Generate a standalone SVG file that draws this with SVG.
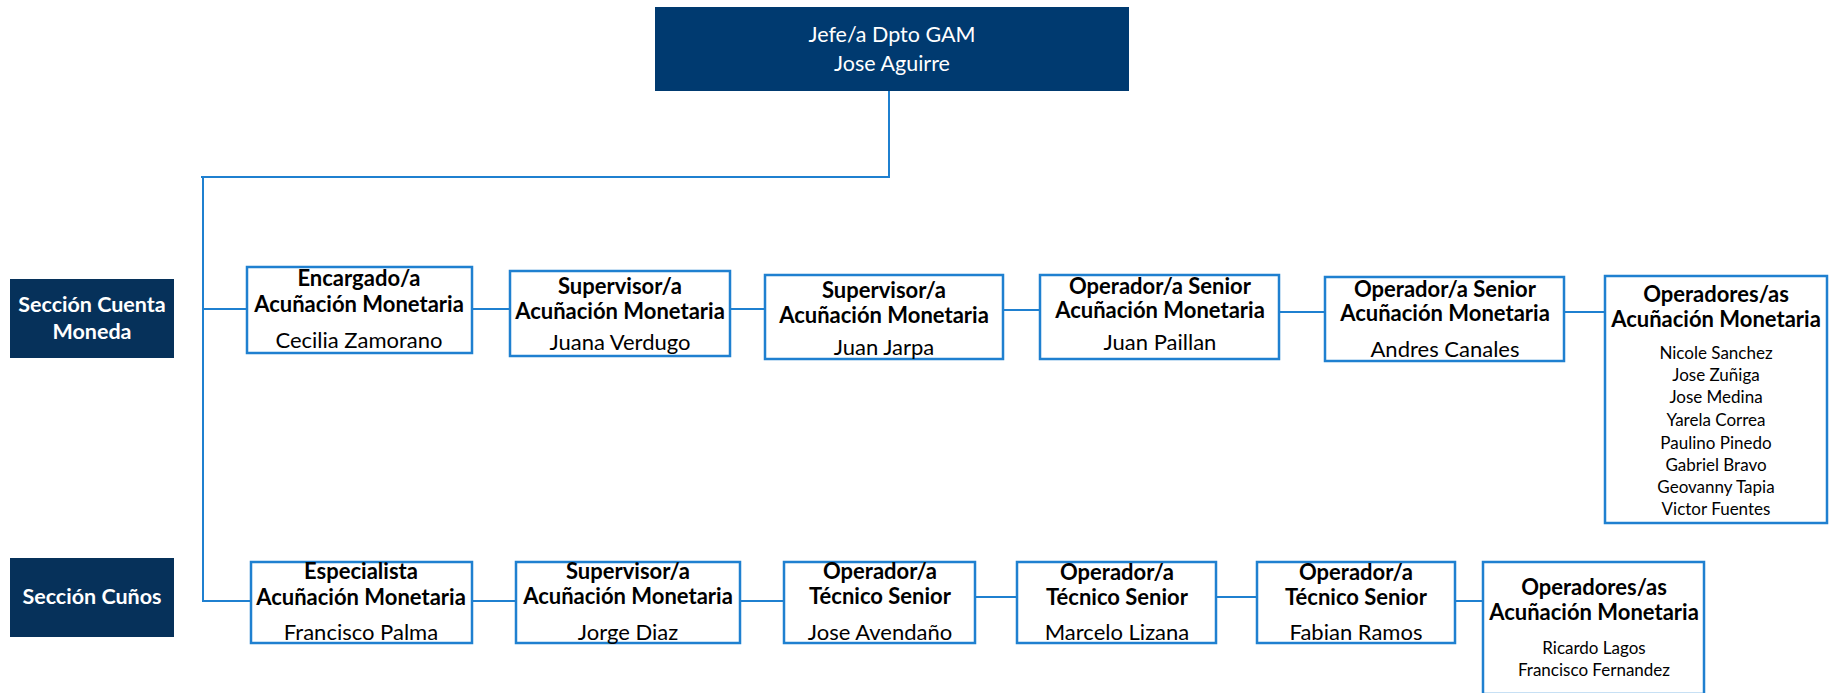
<svg xmlns="http://www.w3.org/2000/svg" width="1829" height="693" viewBox="0 0 1829 693">
<style>
.bg{fill:#ffffff}
.head{fill:#003a70}
.sec{fill:#06315a}
.box{fill:#ffffff;stroke:#1f80d0;stroke-width:2.5}
.con{fill:none;stroke:#1f80d0;stroke-width:2}
text{font-family:Lato,"Liberation Sans",sans-serif;text-anchor:middle}
.w{fill:#ffffff;font-size:21.5px}
.wb{fill:#ffffff;font-size:21.5px;font-weight:bold}
.b{fill:#000000;font-size:22px;font-weight:bold}
.n{fill:#000000;font-size:22px}
.l{fill:#000000;font-size:17px}
</style>
<rect class="bg" x="0" y="0" width="1829" height="693"/>
<g id="connectors">
<path class="con" d="M889,91 V177 H201"/>
<path class="con" d="M203,178 V601 H251"/>
<path class="con" d="M203,309 H247"/>
<path class="con" d="M472,309 H510"/>
<path class="con" d="M730,309 H765"/>
<path class="con" d="M1003,310 H1040"/>
<path class="con" d="M1279,312 H1325"/>
<path class="con" d="M1564,312 H1605"/>
<path class="con" d="M472,601 H516"/>
<path class="con" d="M740,601 H784"/>
<path class="con" d="M975,597 H1017"/>
<path class="con" d="M1216,597 H1257"/>
<path class="con" d="M1455,601 H1483"/>
</g>
<g id="jefe">
<rect class="head" x="655" y="7" width="474" height="84"/>
<text class="w" x="892" y="42">Jefe/a Dpto GAM</text>
<text class="w" x="892" y="71">Jose Aguirre</text>
</g>
<g id="sec-cuenta">
<rect class="sec" x="10" y="279" width="164" height="79"/>
<text class="wb" x="92" y="312">Sección Cuenta</text>
<text class="wb" x="92" y="339">Moneda</text>
</g>
<g id="sec-cunos">
<rect class="sec" x="10" y="558" width="164" height="79"/>
<text class="wb" x="92" y="604">Sección Cuños</text>
</g>
<g id="encargado">
<rect class="box" x="247" y="267" width="225" height="86"/>
<text class="b" x="359" y="286">Encargado/a</text>
<text class="b" x="359" y="312">Acuñación Monetaria</text>
<text class="n" x="359" y="348">Cecilia Zamorano</text>
</g>
<g id="sup-verdugo">
<rect class="box" x="510" y="271" width="220" height="85"/>
<text class="b" x="620" y="294">Supervisor/a</text>
<text class="b" x="620" y="319">Acuñación Monetaria</text>
<text class="n" x="620" y="350">Juana Verdugo</text>
</g>
<g id="sup-jarpa">
<rect class="box" x="765" y="275" width="238" height="84"/>
<text class="b" x="884" y="298">Supervisor/a</text>
<text class="b" x="884" y="323">Acuñación Monetaria</text>
<text class="n" x="884" y="355">Juan Jarpa</text>
</g>
<g id="op-paillan">
<rect class="box" x="1040" y="275" width="239" height="84"/>
<text class="b" x="1160" y="294">Operador/a Senior</text>
<text class="b" x="1160" y="318">Acuñación Monetaria</text>
<text class="n" x="1160" y="350">Juan Paillan</text>
</g>
<g id="op-canales">
<rect class="box" x="1325" y="277" width="239" height="84"/>
<text class="b" x="1445" y="297">Operador/a Senior</text>
<text class="b" x="1445" y="321">Acuñación Monetaria</text>
<text class="n" x="1445" y="357">Andres Canales</text>
</g>
<g id="operadores-cuenta">
<rect class="box" x="1605" y="276" width="222" height="247"/>
<text class="b" x="1716" y="302">Operadores/as</text>
<text class="b" x="1716" y="327">Acuñación Monetaria</text>
<text class="l" x="1716" y="359">Nicole Sanchez</text>
<text class="l" x="1716" y="381">Jose Zuñiga</text>
<text class="l" x="1716" y="403">Jose Medina</text>
<text class="l" x="1716" y="426">Yarela Correa</text>
<text class="l" x="1716" y="449">Paulino Pinedo</text>
<text class="l" x="1716" y="471">Gabriel Bravo</text>
<text class="l" x="1716" y="493">Geovanny Tapia</text>
<text class="l" x="1716" y="515">Victor Fuentes</text>
</g>
<g id="esp-palma">
<rect class="box" x="251" y="562" width="221" height="81"/>
<text class="b" x="361" y="579">Especialista</text>
<text class="b" x="361" y="605">Acuñación Monetaria</text>
<text class="n" x="361" y="640">Francisco Palma</text>
</g>
<g id="sup-diaz">
<rect class="box" x="516" y="562" width="224" height="81"/>
<text class="b" x="628" y="579">Supervisor/a</text>
<text class="b" x="628" y="604">Acuñación Monetaria</text>
<text class="n" x="628" y="640">Jorge Diaz</text>
</g>
<g id="op-avendano">
<rect class="box" x="784" y="562" width="191" height="81"/>
<text class="b" x="880" y="579">Operador/a</text>
<text class="b" x="880" y="604">Técnico Senior</text>
<text class="n" x="880" y="640">Jose Avendaño</text>
</g>
<g id="op-lizana">
<rect class="box" x="1017" y="562" width="199" height="81"/>
<text class="b" x="1117" y="580">Operador/a</text>
<text class="b" x="1117" y="605">Técnico Senior</text>
<text class="n" x="1117" y="640">Marcelo Lizana</text>
</g>
<g id="op-ramos">
<rect class="box" x="1257" y="562" width="198" height="81"/>
<text class="b" x="1356" y="580">Operador/a</text>
<text class="b" x="1356" y="605">Técnico Senior</text>
<text class="n" x="1356" y="640">Fabian Ramos</text>
</g>
<g id="operadores-cunos">
<rect class="box" x="1483" y="562" width="221" height="132"/>
<text class="b" x="1594" y="595">Operadores/as</text>
<text class="b" x="1594" y="620">Acuñación Monetaria</text>
<text class="l" x="1594" y="654">Ricardo Lagos</text>
<text class="l" x="1594" y="676">Francisco Fernandez</text>
</g>
</svg>
